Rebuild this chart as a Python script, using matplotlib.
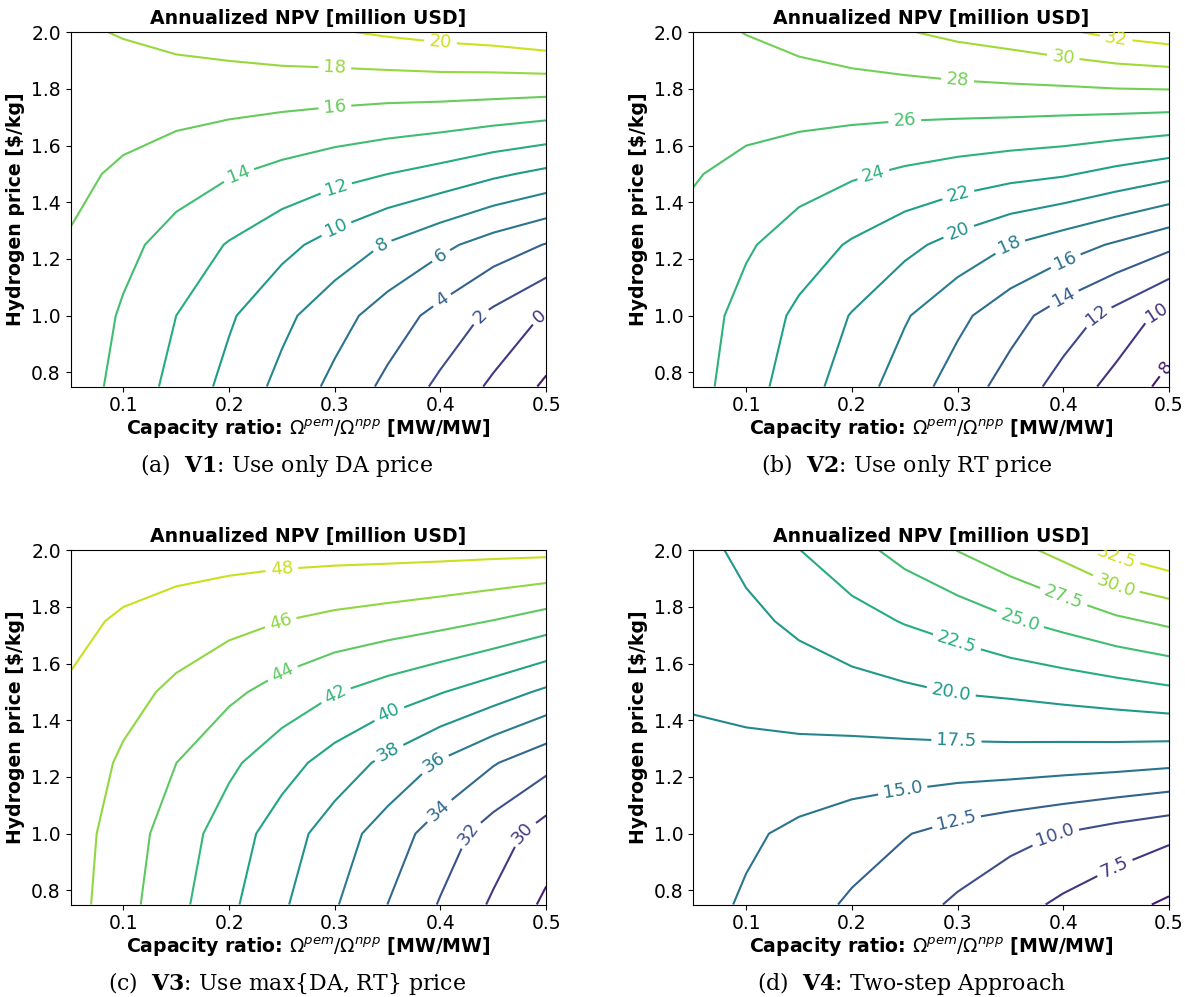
import numpy as np
import matplotlib.pyplot as plt

# grid of the study
cap_ratio = [0.05, 0.10, 0.15, 0.20, 0.25, 0.30, 0.35, 0.40, 0.45, 0.50]
h2_price = [0.75, 1.00, 1.25, 1.50, 1.75, 2.00]

# annualized NPV [million USD], one row per hydrogen price
npv_v1 = [
    [15.23, 13.28, 11.38, 9.40, 7.44, 5.48, 3.53, 1.57, -0.37, -2.33],
    [15.49, 13.75, 12.00, 10.25, 8.50, 6.80, 5.05, 3.35, 1.55, -0.20],
    [15.85, 14.55, 13.20, 11.86, 10.57, 9.22, 7.84, 6.49, 5.10, 3.90],
    [16.45, 15.69, 14.92, 14.15, 13.41, 12.67, 12.00, 11.30, 10.35, 9.50],
    [17.05, 16.85, 16.70, 16.55, 16.37, 16.18, 16.00, 15.90, 15.70, 15.45],
    [17.70, 18.12, 18.59, 18.98, 19.46, 19.82, 20.27, 20.67, 21.00, 21.60],
]
npv_v2 = [
    [24.78, 22.85, 20.93, 19.00, 17.05, 15.12, 13.18, 11.25, 9.30, 7.39],
    [25.01, 23.30, 21.59, 19.89, 18.19, 16.49, 14.77, 13.03, 11.35, 9.30],
    [25.48, 24.25, 23.01, 21.78, 20.54, 19.27, 17.98, 16.90, 15.75, 14.50],
    [26.12, 25.50, 24.87, 24.25, 23.65, 23.10, 22.60, 22.20, 21.40, 20.60],
    [27.00, 26.75, 26.77, 26.78, 26.78, 26.82, 26.85, 26.80, 26.83, 26.79],
    [27.45, 28.05, 28.64, 29.26, 29.86, 30.49, 31.00, 31.72, 32.50, 33.07],
]
npv_v3 = [
    [46.83, 44.70, 42.57, 40.42, 38.29, 36.17, 33.99, 31.85, 29.71, 27.63],
    [46.98, 45.00, 43.02, 41.03, 39.02, 37.00, 35.06, 33.04, 31.06, 29.08],
    [47.32, 45.68, 44.01, 42.39, 40.80, 39.17, 37.49, 35.79, 34.15, 32.65],
    [47.86, 46.71, 45.56, 44.42, 43.24, 42.10, 41.10, 40.10, 38.95, 37.64],
    [48.34, 47.82, 47.20, 46.59, 46.00, 45.50, 45.08, 44.59, 43.94, 43.05],
    [48.60, 48.72, 48.83, 48.79, 48.72, 48.69, 48.68, 48.64, 48.57, 48.53],
]
npv_v4 = [
    [15.95, 14.69, 13.43, 12.17, 10.91, 9.65, 8.40, 7.05, 5.83, 4.60],
    [16.33, 15.40, 14.47, 13.57, 12.64, 11.60, 10.75, 9.90, 8.95, 8.06],
    [16.90, 16.90, 16.70, 16.52, 16.44, 16.35, 16.30, 16.10, 15.90, 15.55],
    [17.78, 18.10, 18.66, 19.10, 19.57, 20.10, 20.40, 20.85, 21.35, 21.95],
    [18.50, 19.41, 20.50, 21.60, 22.65, 23.55, 24.75, 25.80, 27.00, 28.00],
    [19.03, 20.67, 22.45, 24.10, 25.85, 27.55, 29.10, 30.80, 33.05, 34.35],
]

levels_v1 = [-4, -2, 0, 2, 4, 6, 8, 10, 12, 14, 16, 18, 20, 22]
levels_v2 = [6, 8, 10, 12, 14, 16, 18, 20, 22, 24, 26, 28, 30, 32, 34]
levels_v3 = [26, 28, 30, 32, 34, 36, 38, 40, 42, 44, 46, 48, 50]
levels_v4 = [2.5, 5.0, 7.5, 10.0, 12.5, 15.0, 17.5, 20.0, 22.5, 25.0, 27.5, 30.0, 32.5, 35.0]

# where the inline labels sit
labels_v1 = [(0.40, 1.966), (0.30, 1.874), (0.30, 1.743), (0.208, 1.507), (0.30, 1.468),
             (0.30, 1.32), (0.344, 1.253), (0.40, 1.215), (0.40, 1.063), (0.437, 1.0), (0.493, 1.0)]
labels_v2 = [(0.45, 1.979), (0.40, 1.914), (0.30, 1.832), (0.25, 1.69), (0.22, 1.502),
             (0.30, 1.437), (0.30, 1.308), (0.349, 1.249), (0.40, 1.214), (0.40, 1.067),
             (0.431, 1.008), (0.49, 1.002), (0.496, 0.82)]
labels_v3 = [(0.25, 1.934), (0.248, 1.755), (0.25, 1.573), (0.30, 1.496), (0.35, 1.437),
             (0.349, 1.302), (0.393, 1.255), (0.398, 1.084), (0.426, 1.002), (0.477, 1.008)]
labels_v4 = [(0.45, 1.979), (0.45, 1.879), (0.40, 1.832), (0.359, 1.755), (0.299, 1.673),
             (0.294, 1.502), (0.299, 1.337), (0.248, 1.155), (0.299, 1.043), (0.392, 0.996),
             (0.449, 0.878)]

captions = [r"(a)  $\mathbf{V1}$: Use only DA price",
            r"(b)  $\mathbf{V2}$: Use only RT price",
            r"(c)  $\mathbf{V3}$: Use max{DA, RT} price",
            r"(d)  $\mathbf{V4}$: Two-step Approach"]

W, H = 1185, 997
fig = plt.figure(figsize=(W / 100, H / 100), dpi=100)

panels = [
    (npv_v1, levels_v1, labels_v1, (70.5, 32.3)),
    (npv_v2, levels_v2, labels_v2, (693.3, 32.3)),
    (npv_v3, levels_v3, labels_v3, (70.5, 550.3)),
    (npv_v4, levels_v4, labels_v4, (693.3, 550.3)),
]
cap_pos = [(287, 465), (907, 465), (287, 983), (912, 983)]

X, Y = np.meshgrid(cap_ratio, h2_price)
for i, (npv, levels, lab, (left, top)) in enumerate(panels):
    ax = fig.add_axes([left / W, 1 - (top + 354.2) / H, 475.7 / W, 354.2 / H])
    cs = ax.contour(X, Y, np.array(npv), levels=levels, cmap="viridis", linewidths=1.5)
    ax.clabel(cs, fontsize=13, manual=lab)
    ax.set_xlim(0.05, 0.5)
    ax.set_ylim(0.75, 2.0)
    ax.set_xticks([0.1, 0.2, 0.3, 0.4, 0.5])
    ax.set_yticks([0.8, 1.0, 1.2, 1.4, 1.6, 1.8, 2.0])
    ax.tick_params(labelsize=13.5)
    ax.set_title("Annualized NPV [million USD]", fontsize=13.6, fontweight="bold")
    ax.set_xlabel(r"Capacity ratio: $\Omega^{pem}/\Omega^{npp}$ [MW/MW]", fontsize=13.6,
                  fontweight="bold", labelpad=2)
    ax.set_ylabel(r"Hydrogen price [\$/kg]", fontsize=13.6, fontweight="bold")
    cx, cy = cap_pos[i]
    fig.text(cx / W, 1 - cy / H, captions[i], ha="center", va="center", fontsize=15.8,
             family="DejaVu Serif", math_fontfamily="dejavuserif")

plt.savefig("out.png", dpi=100)
